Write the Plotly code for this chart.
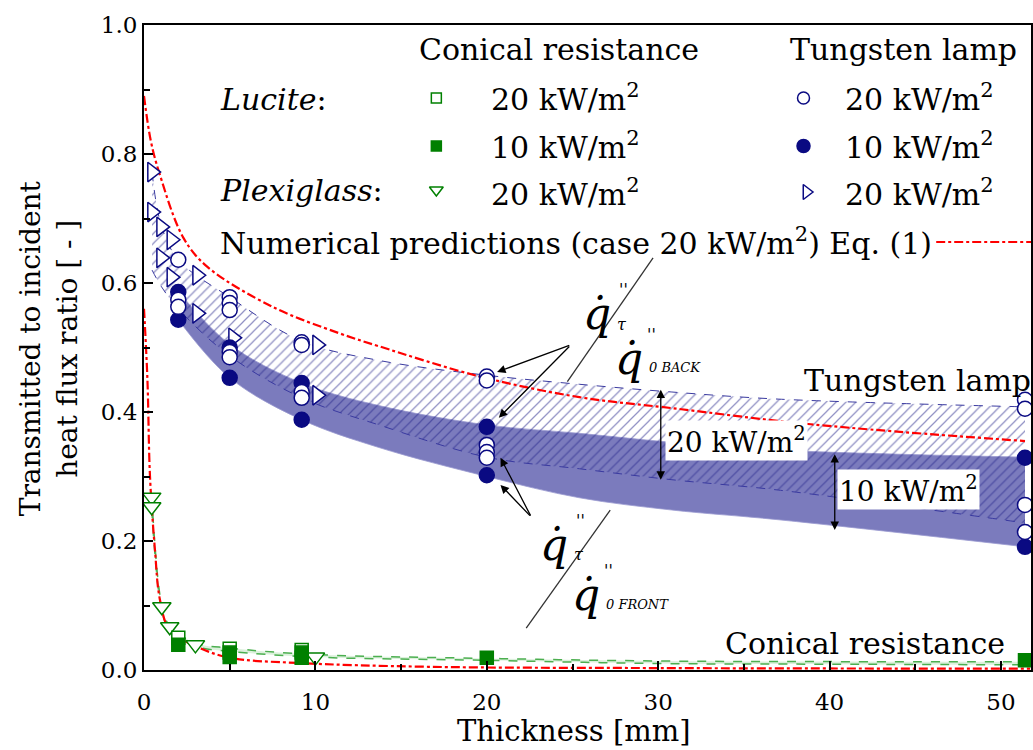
import plotly.graph_objects as go

# ---------------- data ----------------
# Tungsten lamp, Lucite 20 kW/m2 (open circles)
tl20_x = [2, 2, 2, 5, 5, 5, 5, 5, 9.2, 9.2, 9.2, 9.2, 20, 20, 20, 20, 20, 51.4, 51.4, 51.4, 51.4]
tl20_y = [0.636, 0.574, 0.563, 0.578, 0.569, 0.558, 0.493, 0.485, 0.508, 0.504, 0.431, 0.422,
          0.455, 0.449, 0.349, 0.338, 0.329, 0.419, 0.405, 0.256, 0.214]
# Tungsten lamp, Lucite 10 kW/m2 (filled circles)
tl10_x = [2, 2, 5, 5, 9.2, 9.2, 20, 20, 51.4, 51.4]
tl10_y = [0.586, 0.543, 0.500, 0.453, 0.445, 0.388, 0.377, 0.302, 0.329, 0.191]
# Tungsten lamp, Plexiglass 20 kW/m2 (open right triangles)
tp20_x = [0.47, 0.47, 1.0, 1.6, 1.0, 1.6, 3.1, 3.1, 5.2, 10.1, 10.1]
tp20_y = [0.772, 0.710, 0.687, 0.667, 0.639, 0.609, 0.612, 0.553, 0.515, 0.504, 0.426]

# Conical resistance, Lucite 20 kW/m2 (open squares)
cl20_x = [2, 5, 9.2]
cl20_y = [0.050, 0.033, 0.031]
# Conical resistance, Lucite 10 kW/m2 (filled squares)
cl10_x = [2, 5, 5, 9.2, 9.2, 20, 51.4]
cl10_y = [0.039, 0.027, 0.020, 0.027, 0.019, 0.019, 0.015]
# Conical resistance, Plexiglass 20 kW/m2 (open down triangles)
cp20_x = [0.45, 0.45, 1.04, 1.5, 3.0, 10.0]
cp20_y = [0.268, 0.253, 0.098, 0.067, 0.039, 0.020]

# Tungsten lamp bands
band10_x = [2, 5, 9.2, 13.7, 20, 25.4, 30.8, 37, 51.4]
band10_hi = [0.587, 0.505, 0.445, 0.410, 0.380, 0.367, 0.353, 0.341, 0.330]
band10_lo = [0.543, 0.453, 0.388, 0.345, 0.300, 0.267, 0.248, 0.233, 0.191]
band20_x = [0.47, 1.0, 2, 5, 9.2, 13.7, 20, 25.4, 30.8, 37, 51.4]
band20_hi = [0.772, 0.690, 0.636, 0.578, 0.510, 0.480, 0.457, 0.443, 0.431, 0.420, 0.408]
band20_lo = [0.620, 0.595, 0.560, 0.487, 0.422, 0.380, 0.330, 0.312, 0.295, 0.279, 0.228]

# Conical resistance band
bandc_x = [0.45, 1.04, 1.5, 3.0, 5, 10, 20, 30, 40, 51.7]
bandc_hi = [0.270, 0.100, 0.068, 0.042, 0.034, 0.024, 0.018, 0.014, 0.013, 0.013]
bandc_lo = [0.250, 0.092, 0.062, 0.037, 0.029, 0.020, 0.015, 0.010, 0.009, 0.008]

# Numerical predictions Eq. (1)
numt_x = [0, 0.4, 0.9, 2.3, 3.7, 7.5, 11.4, 13.7, 19.6, 25.4, 30.8, 38.9, 51.4]
numt_y = [0.890, 0.820, 0.770, 0.670, 0.625, 0.563, 0.522, 0.502, 0.455, 0.423, 0.406, 0.381, 0.355]
numc_x = [0, 0.2, 0.35, 0.64, 0.93, 1.5, 3.1, 5.0, 8.9, 16.6, 30, 51.7]
numc_y = [0.560, 0.450, 0.300, 0.186, 0.109, 0.062, 0.036, 0.019, 0.011, 0.005, 0.003, 0.002]

x_ticks = [0, 10, 20, 30, 40, 50]
y_ticks = [0.0, 0.2, 0.4, 0.6, 0.8, 1.0]

# ---------------- styling ----------------
FONT = "DejaVu Serif"
NAVY = "#0a0a82"
GREEN = "#008000"
RED = "#ff0000"
W, H = 1033, 750
L, T, B = 144, 25, 80
PW, PH = W - L, H - T - B
XMAX = 51.75


def pp(xp, yp):
    """pixel -> paper coords (for layout decorations only)"""
    return (xp - L) / PW, (H - B - yp) / PH


fig = go.Figure()


def band(x, lo, hi, lo_line, hi_line, **fillkw):
    fig.add_trace(go.Scatter(x=x, y=lo, mode="lines", line_shape="spline", line=lo_line,
                             showlegend=False, hoverinfo="skip"))
    fig.add_trace(go.Scatter(x=x, y=hi, mode="lines", line_shape="spline", line=hi_line,
                             fill="tonexty", showlegend=False, hoverinfo="skip", **fillkw))


# solid band (10 kW/m2)
band(band10_x, band10_lo, band10_hi,
     dict(color="#9a9ad0", width=0.8), dict(color="#9a9ad0", width=0.8),
     fillcolor="#7b7bbd")
# hatched band (20 kW/m2)
band(band20_x, band20_lo, band20_hi,
     dict(color="#3a3aa0", width=1, dash="dash"), dict(color="#3a3aa0", width=1, dash="dash"),
     fillcolor="rgba(0,0,0,0)",
     fillpattern=dict(shape="/", fgcolor="#23238a", fgopacity=0.5, bgcolor="rgba(0,0,0,0)",
                      size=7, solidity=0.18))
# conical band
band(bandc_x, bandc_lo, bandc_hi,
     dict(color="#4caf50", width=1.5, dash="dash"), dict(color="#4caf50", width=1.5, dash="dash"),
     fillcolor="rgba(140,210,140,0.3)")

# numerical predictions
for xx, yy in ((numt_x, numt_y), (numc_x, numc_y)):
    fig.add_trace(go.Scatter(x=xx, y=yy, mode="lines", line_shape="spline",
                             line=dict(color=RED, width=2.2, dash="dashdot"),
                             showlegend=False, hoverinfo="skip"))


# markers
def mk(x, y, symbol, color, size, filled):
    fig.add_trace(go.Scatter(
        x=x, y=y, mode="markers", showlegend=False,
        marker=dict(symbol=symbol, size=size,
                    color=color if filled else "white",
                    line=dict(color=color, width=1.5))))


mk(cp20_x, cp20_y, "triangle-down", GREEN, 16, False)
mk(cl20_x, cl20_y, "square", GREEN, 13, False)
mk(cl10_x, cl10_y, "square", GREEN, 13, True)
mk(tp20_x, tp20_y, "triangle-right", NAVY, 17, False)
mk(tl10_x, tl10_y, "circle", NAVY, 15, True)
mk(tl20_x, tl20_y, "circle", NAVY, 15, False)

# ---------------- legend (overlay axes in paper units) ----------------
leg = [
    (pp(437, 98), "square", GREEN, 10, False),
    (pp(437, 146), "square", GREEN, 10, True),
    (pp(437, 190), "triangle-down", GREEN, 12, False),
    (pp(805, 98), "circle", NAVY, 12, False),
    (pp(805, 146), "circle", NAVY, 13, True),
    (pp(808, 192), "triangle-right", NAVY, 13, False),
]
for (px_, py_), sym, col, sz, filled in leg:
    fig.add_trace(go.Scatter(
        x=[px_], y=[py_], xaxis="x2", yaxis="y2", mode="markers", showlegend=False,
        marker=dict(symbol=sym, size=sz, color=col if filled else "white",
                    line=dict(color=col, width=1.5))))
a0, yl = pp(938, 242)
a1, _ = pp(1033, 242)
fig.add_trace(go.Scatter(x=[a0, a1], y=[yl, yl], xaxis="x2", yaxis="y2", mode="lines",
                         line=dict(color=RED, width=2, dash="dashdot"), showlegend=False))

ann = []


def text(xp, yp, s, size=30, anchor="left", **kw):
    x_, y_ = pp(xp, yp)
    ann.append(dict(x=x_, y=y_, xref="paper", yref="paper", text=s, showarrow=False,
                    xanchor=anchor, yanchor="middle",
                    font=dict(family=FONT, size=size, color="black"), **kw))


KW = "kW/m<sup>2</sup>"
text(560, 50, "Conical resistance", anchor="center")
text(905, 50, "Tungsten lamp", anchor="center")
text(218, 100, "<i>Lucite</i>:")
text(218, 190, "<i>Plexiglass</i>:")
for yp, v in ((98, "20"), (146, "10"), (192, "20")):
    text(490, yp, f"{v} {KW}")
    text(845, yp, f"{v} {KW}")
text(218, 242, f"Numerical predictions (case 20 {KW}) Eq. (1)")
text(803, 380, "Tungsten lamp")
text(724, 643, "Conical resistance")
text(738, 440, f"20 {KW}", anchor="center", bgcolor="white", size=28)
text(910, 490, f"10 {KW}", anchor="center", bgcolor="white", size=28)


# q-dot symbols (q with combining dot above)
def qdot(xp, yp, sub, subsize, prime_dx=20):
    text(xp, yp, "<i>q\u0307</i>", size=44, anchor="center")
    text(xp + prime_dx, yp - 24, "''", size=16, anchor="left")
    text(xp + 18, yp + 10, f"<i>{sub}</i>", size=subsize, anchor="left")


qdot(598, 314, "τ", 16)
qdot(630, 358, "0 BACK", 13, prime_dx=16)
qdot(555, 544, "τ", 16)
qdot(587, 594, "0 FRONT", 13, prime_dx=16)

# axis titles
text(575, 731, "Thickness [mm]", anchor="center", size=29)
xt, yt = pp(48, 348)
ann.append(dict(x=xt, y=yt, xref="paper", yref="paper", showarrow=False, textangle=-90,
                text="Transmitted to incident<br>heat flux ratio [ - ]",
                font=dict(family=FONT, size=28, color="black"), xanchor="center",
                yanchor="middle"))


# arrows (data coordinates)
def arrow(x0, y0, x1, y1, both=False):
    ann.append(dict(x=x1, y=y1, ax=x0, ay=y0, xref="x", yref="y", axref="x", ayref="y",
                    text="", showarrow=True, arrowhead=2, arrowsize=1.3, arrowwidth=1.3,
                    arrowcolor="black", arrowside="end+start" if both else "end"))


arrow(24.9, 0.504, 20.6, 0.462)
arrow(24.9, 0.504, 20.7, 0.391)
arrow(22.6, 0.237, 20.8, 0.329)
arrow(22.6, 0.237, 20.8, 0.287)
arrow(30.15, 0.437, 30.15, 0.295, both=True)
arrow(40.3, 0.337, 40.3, 0.217, both=True)

shapes = [
    dict(type="line", xref="x", yref="y", x0=29.7, y0=0.639, x1=24.7, y1=0.447,
         line=dict(color="#333", width=1.3)),
    dict(type="line", xref="x", yref="y", x0=27.2, y0=0.248, x1=22.3, y1=0.065,
         line=dict(color="#333", width=1.3)),
]

axis_common = dict(showgrid=False, zeroline=False, showline=True, linecolor="black",
                   linewidth=2, mirror=True, ticks="inside", ticklen=9, tickwidth=2,
                   tickcolor="black", tickfont=dict(family=FONT, size=23, color="black"))

fig.update_layout(
    width=W, height=H, margin=dict(l=L, r=0, t=T, b=B),
    paper_bgcolor="white", plot_bgcolor="white",
    xaxis=dict(range=[0, XMAX], tickvals=x_ticks, ticklabelstandoff=10,
               minor=dict(ticks="inside", dtick=5, ticklen=6, tickwidth=1.5, tickcolor="black"),
               **axis_common),
    yaxis=dict(range=[0, 1.0], tickvals=y_ticks, tickformat=".1f",
               minor=dict(ticks="inside", dtick=0.1, ticklen=6, tickwidth=1.5, tickcolor="black"),
               **axis_common),
    xaxis2=dict(overlaying="x", range=[0, 1], visible=False, fixedrange=True),
    yaxis2=dict(overlaying="y", range=[0, 1], visible=False, fixedrange=True),
    annotations=ann, shapes=shapes, showlegend=False,
)

fig.write_html("out.html")
